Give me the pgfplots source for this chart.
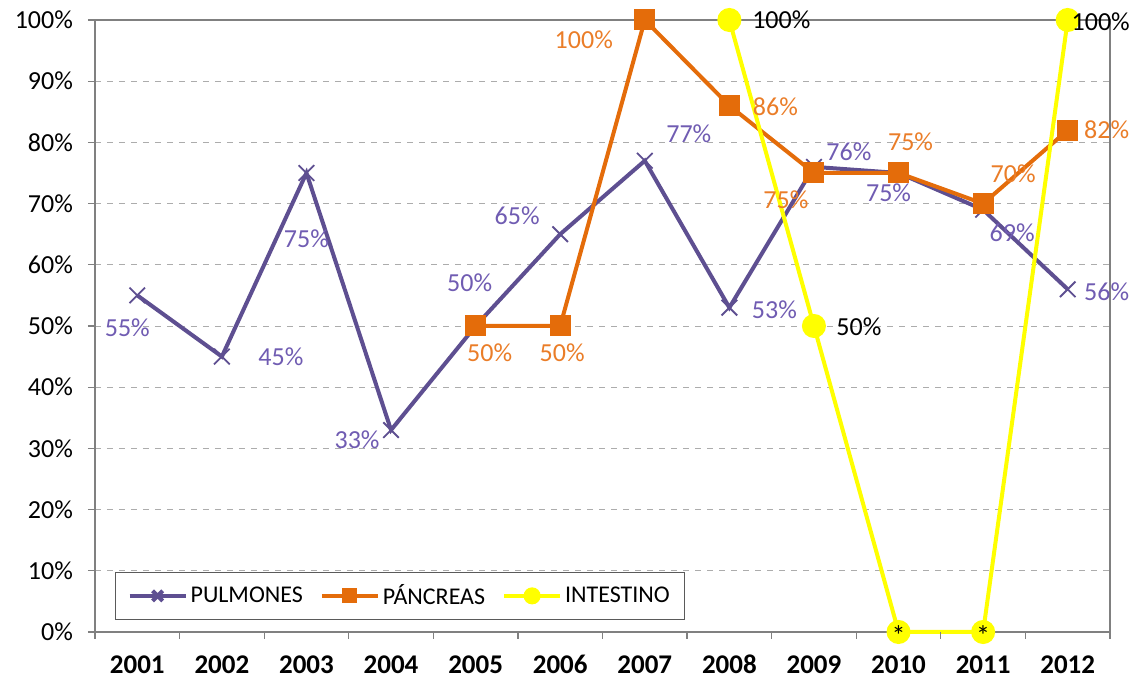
\documentclass[border=0pt]{standalone}
\usepackage{pgfplots}
\pgfplotsset{compat=1.18}
\usepackage{fontspec}
\setmainfont{Carlito}
\definecolor{pulm}{RGB}{94,79,145}
\definecolor{pulmlab}{RGB}{112,92,178}
\definecolor{panc}{RGB}{228,108,10}
\definecolor{panclab}{RGB}{234,125,40}
\definecolor{inte}{RGB}{255,255,0}
\definecolor{axgray}{RGB}{128,128,128}

\pgfplotstableread{
x y
0 55
1 45
2 75
3 33
4 50
5 65
6 77
7 53
8 76
9 75
10 69
11 56
}\pulmdata
\pgfplotstableread{
x y
4 50
5 50
6 100
7 86
8 75
9 75
10 70
11 82
}\pancdata
\pgfplotstableread{
x y
7 100
8 50
9 0
10 0
11 100
}\intedata

\pgfplotstableread{
x y dx dy
0 55 -10 -32
1 45 59 0
2 75 0 -66
3 33 -34 -10
4 50 -6 43
5 65 -43 18
6 77 44 27
7 53 45 -2
8 76 35 15
9 75 -10 -20
10 69 29 -23
11 56 39 -2
}\pulmlab
\pgfplotstableread{
x y dx dy
4 50 14 -27
5 50 2 -27
6 100 -61 -20
7 86 46 -1
8 75 -28 -27
9 75 12 31
10 70 30 30
11 82 39 0
}\panclab
\pgfplotstableread{
x y dx dy
7 100 52 0
8 50 45 -1
11 100 33 -2
}\intelab
\pgfplotstableread{
x y
9 0
10 0
}\intestar

\pgfplotsset{
  lab/.style={draw=none, mark=none, forget plot,
    nodes near coords={\pgfmathprintnumber{\pgfplotspointmeta}\%},
    point meta=\thisrow{y},
    visualization depends on={\thisrow{dx}\as\labdx},
    visualization depends on={\thisrow{dy}\as\labdy},
    every node near coord/.append style={anchor=center, inner sep=0pt,
      xshift=\labdx*0.5pt, yshift=\labdy*0.5pt,
      font=\fontsize{13}{15}\selectfont, text=#1}},
}

\begin{document}
\begin{tikzpicture}
\begin{axis}[
  at={(0,0)}, anchor=south west,
  scale only axis, width=507.5pt, height=306pt,
  xmin=-0.5, xmax=11.5, ymin=0, ymax=100,
  xtick={0,1,...,11},
  xticklabels={2001,2002,2003,2004,2005,2006,2007,2008,2009,2010,2011,2012},
  x tick style={draw=none},
  xtick pos=bottom, ytick pos=left,
  ytick={0,10,...,100},
  yticklabel={\pgfmathprintnumber{\tick}\%},
  /pgf/number format/assume math mode=true,
  tick align=outside, major tick length=3.5pt,
  ymajorgrids, grid style={dashed, gray!65, line width=0.4pt},
  axis line style={axgray, line width=0.6pt},
  y tick style={axgray, line width=0.6pt},
  x tick label style={font=\fontsize{13.5}{15}\selectfont\bfseries, anchor=base, yshift=-17.5pt},
  y tick label style={font=\fontsize{13}{15}\selectfont, xshift=-4pt},
  clip=false,
  after end axis/.code={
    \foreach \i in {-0.5,0.5,1.5,2.5,3.5,4.5,5.5,6.5,7.5,8.5,9.5,10.5,11.5} {
      \draw[axgray, line width=0.6pt] (axis cs:\i,0) -- ++(0,-3.5pt);
    }
  },
  legend columns=3,
  legend cell align=left,
  legend image code/.code={\draw[mark repeat=2, mark phase=2, mark options={scale=0.65}] plot coordinates {(0pt,0pt) (14pt,0pt) (28pt,0pt)};},
  legend style={at={(0.0197,0.0196)}, anchor=south west,
    draw=axgray!70!black, line width=0.6pt, fill=white,
    inner xsep=6pt, inner ysep=4pt,
    font=\fontsize{12}{14}\selectfont,
    nodes={inner xsep=1.5pt},
    /tikz/every even column/.append style={column sep=7pt}},
]
\addplot[pulm, line width=2pt, mark=x, mark size=5.5pt, mark options={line width=0.9pt}] table[x=x,y=y] {\pulmdata};
\addlegendentry{PULMONES}
\addplot[panc, line width=2pt, mark=square*, mark size=4.25pt, mark options={solid}] table[x=x,y=y] {\pancdata};
\addlegendentry{PÁNCREAS}
\addplot[inte, line width=2pt, mark=*, mark size=5pt] table[x=x,y=y] {\intedata};
\addlegendentry{INTESTINO}

\addplot[lab=pulmlab] table[x=x,y=y] {\pulmlab};
\addplot[lab=panclab] table[x=x,y=y] {\panclab};
\addplot[lab=black] table[x=x,y=y] {\intelab};
\addplot[draw=none, mark=none, forget plot, nodes near coords={*}, point meta=\thisrow{y},
  every node near coord/.append style={anchor=center, inner sep=0pt, yshift=-2pt, font=\fontsize{14}{16}\selectfont, text=black}]
  table[x=x,y=y] {\intestar};
\end{axis}
\pgfresetboundingbox
\path[use as bounding box] (-47.5pt,-26pt) rectangle (521pt,316pt);
\end{tikzpicture}
\end{document}
